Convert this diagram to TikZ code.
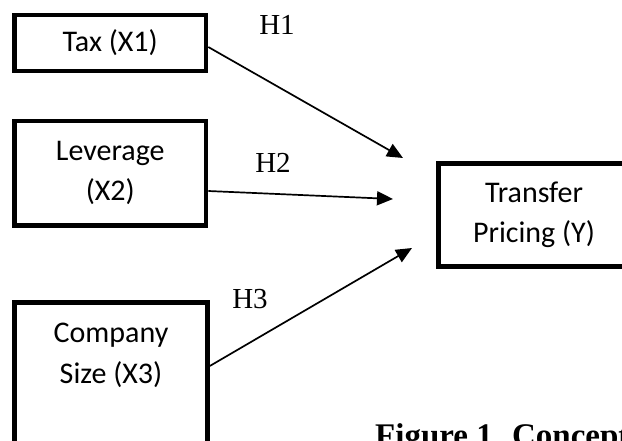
\documentclass[tikz,border=0pt]{standalone}
\usepackage{fontspec}
\setmainfont{Liberation Serif}
\newfontfamily\boxfont{Carlito}
\usetikzlibrary{arrows.meta,calc}
\begin{document}
\begin{tikzpicture}[x=1pt,y=-1pt,
  box/.style={draw, line width=4.6pt, inner sep=0pt, align=center,
    font=\boxfont\fontsize{30}{40}\selectfont},
  boxtext/.style={inner sep=0pt, anchor=base, font=\boxfont\fontsize{30}{40}\selectfont},
  hyp/.style={inner sep=0pt, font=\fontsize{29}{34}\selectfont},
  link/.style={line width=1.7pt, -{Triangle[length=16pt,width=14pt]}}]
\path[use as bounding box, clip] (0,0) rectangle (622,440);
% boxes
\node[box, minimum width=191.5pt, minimum height=56pt] (tax) at (110.25,43) {Tax (X1)};
\node[box, minimum width=191.5pt, minimum height=104.5pt] (lev) at (110.25,173.25) {Leverage\\(X2)};
\node[box, minimum width=190.6pt, minimum height=103.2pt] (tp) at (534,215.1) {Transfer\\Pricing (Y)};
\node[box, minimum width=193pt, minimum height=177.5pt] (co) at (111,391.25) {};
\node[boxtext] (co1) at (111,342) {Company};
\node[boxtext] (co2) at (111,383) {Size (X3)};
% arrow ends
\coordinate (t1) at (403,158);
\coordinate (t2) at (393,199);
\coordinate (t3) at (412,248);
\draw[link] (tax.east |- 0,47) -- (t1);
\draw[link] (lev.east |- 0,191) -- (t2);
\draw[link] (co.east |- 0,366) -- (t3);
% labels
\node[hyp] (h1) at (277,25) {H1};
\node[hyp] (h2) at (273,163) {H2};
\node[hyp] (h3) at (250,299) {H3};
% caption (cut off at the edges, as in the reference)
\node[font=\bfseries\fontsize{33}{40}\selectfont, anchor=base west, inner sep=0pt] (cap) at (375,446) {Figure 1. Concept};
\end{tikzpicture}
\end{document}
